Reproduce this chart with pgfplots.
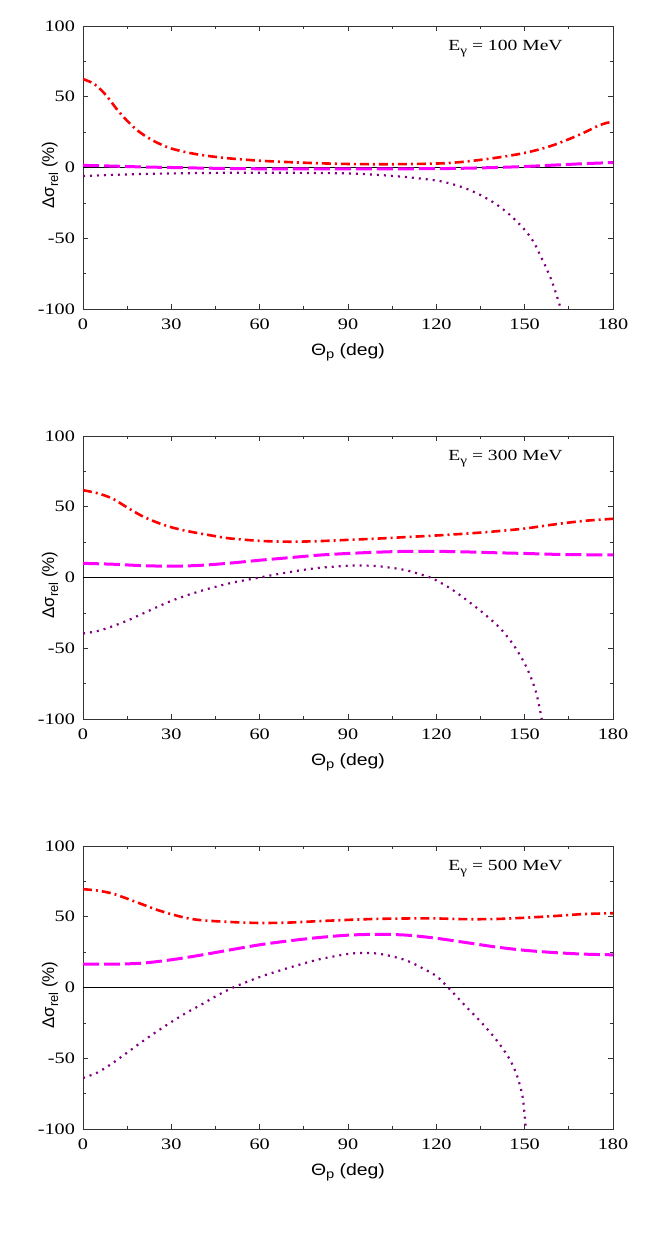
\documentclass[border=0pt]{standalone}
\usepackage{fontspec}
\setmainfont{Liberation Serif}
\setsansfont{Liberation Sans}
\usepackage{graphicx}
\usepackage{pgfplots}
\pgfplotsset{compat=1.18}
\newcommand\hs[1]{\scalebox{1.27}[1]{#1}}
\newcommand\sub[2]{\raisebox{-0.45ex}{\fontsize{#1}{#1}\selectfont #2}}
\definecolor{cred}{RGB}{255,0,0}
\definecolor{cmag}{RGB}{255,0,255}
\definecolor{cpur}{RGB}{128,0,128}
\pgfplotsset{
  panel/.style={
    scale only axis, width=530bp, height=283bp, anchor=south west,
    xmin=0,xmax=180,ymin=-100,ymax=100,
    xtick={0,30,60,90,120,150,180}, ytick={-100,-50,0,50,100},
    xticklabels={\hs{0},\hs{30},\hs{60},\hs{90},\hs{120},\hs{150},\hs{180}},
    yticklabels={\hs{-100},\hs{-50},\hs{0},\hs{50},\hs{100}},
    minor x tick num=1, minor y tick num=1,
    tick align=inside, major tick length=5bp, minor tick length=3bp,
    axis line style={black!80, line width=1bp},
    every tick/.style={black!80, line width=0.7bp},
    tick label style={font=\fontsize{16}{19}\selectfont},
    xticklabel style={yshift=-6.5bp},
    yticklabel style={xshift=-4.5bp},
    xlabel={\scalebox{1.18}[1]{\sffamily\fontsize{16.5}{19}\selectfont Θ\sub{12.5}{p} (deg)}},
    xlabel style={at={(axis description cs:0.5,0)}, anchor=base, yshift=-46bp},
    ylabel={\sffamily\fontsize{17}{19}\selectfont Δσ\sub{13}{rel} (\%)},
    ylabel style={at={(axis description cs:-0.0547,0.4735)}, anchor=base},
    clip=true,
  },
  rd/.style={cred, line width=2.6bp, dash pattern=on 9bp off 4bp on 2bp off 4bp, smooth},
  mg/.style={cmag, line width=3bp, dash pattern=on 16bp off 5bp, smooth},
  pu/.style={cpur, line width=2.2bp, dash pattern=on 2bp off 5bp, smooth},
  zl/.style={black, line width=0.8bp},
}
\newcommand\elabel[1]{\node[font=\fontsize{15.5}{18}\selectfont] at (axis cs:143.5,84) {\hs{E\sub{12}{γ} = #1 MeV}};}
\begin{document}
\begin{tikzpicture}
\useasboundingbox (0,0) rectangle (654bp,-1253bp);
% panel 1
\begin{axis}[panel, at={(83bp,-309bp)}]
\addplot[zl] coordinates {(0,0) (180,0)};
\addplot[rd] coordinates {(0,62.5) (3,60) (5,57) (7,53) (9,48) (11,42.5) (13,37.5) (15,33) (18,27) (21,22.5) (24,18.8) (27,15.8) (30,13.4) (35,10.8) (40,8.9) (45,7.5) (50,6.4) (60,4.8) (70,3.8) (80,3) (90,2.5) (100,2.3) (110,2.4) (120,2.8) (125,3.3) (130,4.2) (135,5.4) (140,6.8) (145,8.4) (150,10.3) (155,12.8) (160,16) (165,20) (170,24.5) (175,29.5) (178,31.6) (180,32.3)};
\addplot[mg] coordinates {(0,1.5) (10,1) (20,0.4) (30,0) (40,-0.4) (50,-0.7) (60,-0.9) (80,-1) (100,-1) (120,-0.8) (130,-0.5) (140,0) (150,0.7) (160,1.7) (170,2.7) (180,3.5)};
\addplot[pu] coordinates {(0,-6) (10,-5.2) (20,-4.6) (30,-4.2) (45,-3.8) (60,-3.7) (75,-3.8) (90,-4.2) (100,-5.2) (110,-6.8) (120,-9.2) (125,-11.5) (130,-14.8) (135,-19.5) (140,-25.5) (145,-33.5) (150,-44) (153,-52.5) (155,-60.8) (157,-69.5) (159,-79) (160.5,-88) (162.3,-100)};
\elabel{100}
\end{axis}
% panel 2
\begin{axis}[panel, at={(83bp,-719bp)}]
\addplot[zl] coordinates {(0,0) (180,0)};
\addplot[rd] coordinates {(0,61.7) (5,59.5) (10,55.8) (15,49.5) (20,43.5) (25,39) (30,35.5) (35,33) (40,31) (45,29.2) (50,27.6) (60,25.9) (70,25.3) (80,25.7) (90,26.6) (100,27.5) (110,28.6) (120,29.7) (130,31) (140,32.6) (150,34.6) (160,37.5) (170,40) (180,41.5)};
\addplot[mg] coordinates {(0,10) (10,9.4) (20,8.4) (30,8) (40,8.6) (50,10.2) (60,12.2) (70,14) (80,15.8) (90,17) (100,17.9) (110,18.5) (120,18.5) (130,18.1) (140,17.5) (150,17) (160,16.4) (170,16.1) (180,16)};
\addplot[pu] coordinates {(0,-39.6) (5,-37.8) (10,-34.5) (15,-30.5) (20,-25.8) (30,-16.5) (40,-9.5) (50,-4) (60,0) (70,3.8) (80,6.8) (90,8.3) (95,8.5) (100,8) (105,6.8) (110,5) (115,2) (118,0) (120,-2) (125,-8) (130,-15.5) (135,-23.5) (140,-32.5) (143,-39) (146,-47) (148,-53.5) (150,-60.8) (152,-70) (154,-82) (155.8,-100)};
\elabel{300}
\end{axis}
% panel 3
\begin{axis}[panel, at={(83bp,-1129bp)}]
\addplot[zl] coordinates {(0,0) (180,0)};
\addplot[rd] coordinates {(0,69.5) (5,68.5) (10,66.4) (15,62.8) (20,58.9) (25,55) (30,51.8) (35,49.2) (40,47.6) (50,46.3) (60,45.6) (70,45.9) (80,46.9) (90,47.8) (100,48.5) (110,48.8) (120,48.8) (130,48.3) (140,48.4) (150,49.3) (160,50.5) (170,51.9) (180,52.5)};
\addplot[mg] coordinates {(0,16.5) (10,16.5) (20,17.2) (30,19.6) (40,22.9) (50,26.6) (60,30.2) (70,33) (80,35.3) (90,37) (100,37.6) (110,37) (120,34.8) (130,31.8) (140,28.7) (150,26.3) (160,24.7) (170,23.6) (180,23.1)};
\addplot[pu] coordinates {(0,-64) (5,-60) (10,-53.5) (15,-46) (20,-38.4) (25,-31.2) (30,-24.4) (35,-18) (40,-12.3) (45,-6.3) (51,0) (60,7.4) (70,14) (80,19.8) (90,23.7) (95,24.4) (100,24) (105,22) (110,19) (115,14) (120,8.1) (124,0) (130,-13.3) (135,-24) (140,-36) (143,-44.5) (145,-51) (147,-60) (148.5,-70) (149.5,-80) (150.4,-100)};
\elabel{500}
\end{axis}
\end{tikzpicture}
\end{document}
